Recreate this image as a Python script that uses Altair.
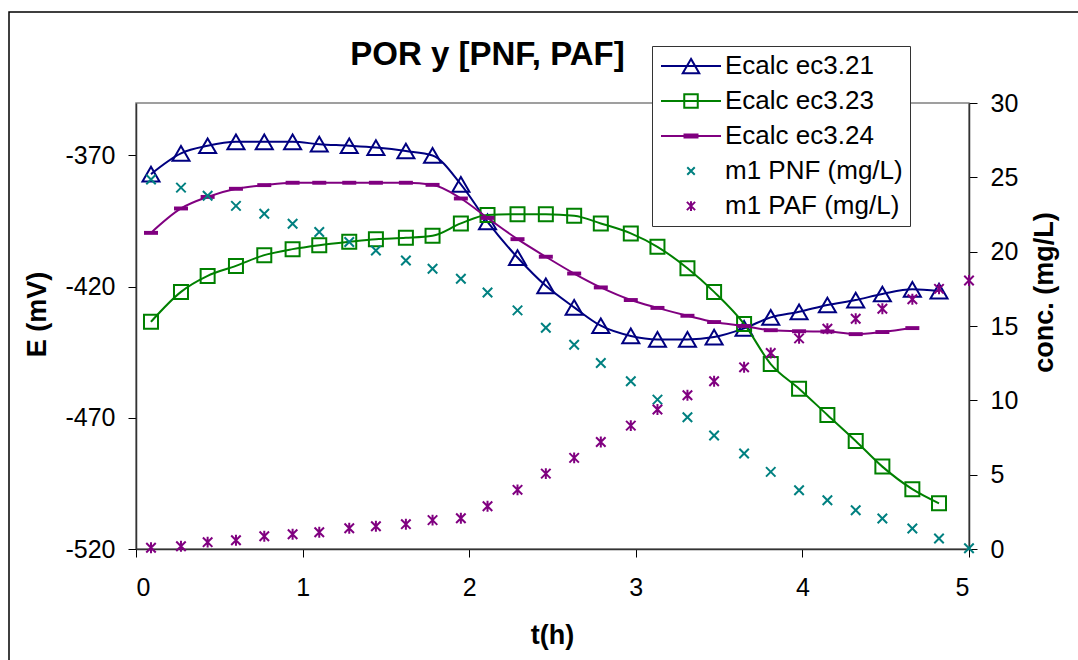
import altair as alt
import pandas as pd

# Sampling times (h)
t_h = [0.09, 0.27, 0.43, 0.60, 0.77, 0.94, 1.10, 1.28, 1.44, 1.62,
       1.78, 1.95, 2.11, 2.29, 2.46, 2.63, 2.79, 2.97, 3.13, 3.31,
       3.47, 3.65, 3.81, 3.98, 4.15, 4.32, 4.48, 4.66, 4.82, 5.00]

# Calculated potentials (mV)
e_ec321 = [-377.1, -369.2, -366.3, -364.8, -364.8, -364.8, -365.7, -366.3, -367.0, -368.3,
           -370.0, -381.0, -395.3, -408.9, -419.7, -427.9, -434.9, -438.8, -440.1, -440.1,
           -439.2, -435.9, -431.7, -429.6, -427.0, -425.1, -422.8, -421.0, -421.7]
e_ec323 = [-433.4, -422.0, -415.9, -412.1, -408.0, -405.7, -404.2, -402.9, -401.9, -401.4,
           -400.6, -395.9, -392.7, -392.4, -392.4, -393.0, -395.9, -399.7, -404.8, -413.0,
           -422.0, -434.2, -449.5, -458.9, -468.9, -478.8, -488.6, -497.2, -502.6]
e_ec324 = [-399.5, -390.2, -385.8, -382.7, -381.3, -380.4, -380.4, -380.4, -380.4, -380.4,
           -381.2, -386.4, -393.8, -401.9, -408.6, -415.0, -420.3, -425.1, -428.1, -431.1,
           -433.5, -435.0, -436.6, -437.0, -437.1, -438.1, -437.3, -435.8]

# Measured concentrations (mg/L)
pnf = [24.85, 24.31, 23.76, 23.08, 22.55, 21.88, 21.32, 20.65, 20.08, 19.41,
       18.85, 18.18, 17.25, 16.05, 14.88, 13.74, 12.51, 11.28, 10.05, 8.86,
       7.63, 6.42, 5.19, 3.95, 3.28, 2.61, 2.05, 1.38, 0.71, 0.05]
paf = [0.08, 0.19, 0.46, 0.59, 0.86, 0.99, 1.13, 1.40, 1.53, 1.67,
       1.94, 2.07, 2.88, 3.98, 5.07, 6.13, 7.20, 8.30, 9.38, 10.34,
       11.28, 12.22, 13.18, 14.17, 14.81, 15.49, 16.16, 16.80, 17.50, 18.06]

SERIES = ["Ecalc ec3.21", "Ecalc ec3.23", "Ecalc ec3.24", "m1 PNF (mg/L)", "m1 PAF (mg/L)"]
COLORS = ["#000080", "#008000", "#800080", "#008080", "#800080"]

e_ticks = [-520, -470, -420, -370]
c_ticks = [0, 5, 10, 15, 20, 25, 30]
t_ticks = [0, 1, 2, 3, 4, 5]

FONT = "Liberation Sans"

# Marker outlines
TRIANGLE = "M0,-0.95L1.1,0.95H-1.1Z"
DASH = "M-1,-0.28H1V0.28H-1Z"
XMARK = "M-1,-1L1,1M1,-1L-1,1"
STAR = "M-1,-1L1,1M1,-1L-1,1M0,-1.15V1.15"

# Legend glyphs: line segment with the series marker
LEGEND_SHAPES = [
    "M-4,0H4M0,-0.95L1.1,0.95H-1.1Z",
    "M-4,0H4M-0.9,-0.9H0.9V0.9H-0.9Z",
    "M-4,0H4M-1,-0.2H1M-1,0.2H1",
    "M-0.5,-0.5L0.5,0.5M0.5,-0.5L-0.5,0.5",
    "M-0.55,-0.55L0.55,0.55M0.55,-0.55L-0.55,0.55M0,-0.65V0.65",
]


def series_frame(name, values):
    return pd.DataFrame({"t": t_h[:len(values)], "value": values, "series": name})


e_df = pd.concat([series_frame(SERIES[0], e_ec321),
                  series_frame(SERIES[1], e_ec323),
                  series_frame(SERIES[2], e_ec324)], ignore_index=True)
c_df = pd.concat([series_frame(SERIES[3], pnf),
                  series_frame(SERIES[4], paf)], ignore_index=True)

# Plain hyphen for negative tick labels
HYPHEN_LABELS = "replace(datum.label, '\u2212', '-')"

axis_common = dict(
    labelFont=FONT, labelFontSize=25, labelColor="black",
    titleFont=FONT, titleFontSize=27, titleFontWeight="bold", titleColor="black",
    tickColor="black", tickSize=8, domainColor="#333333", domainWidth=1.5,
    grid=False, labelExpr=HYPHEN_LABELS,
)

x_enc = alt.X(
    "t:Q",
    scale=alt.Scale(domain=[0, 5], nice=False),
    axis=alt.Axis(title="t(h)", values=t_ticks, labelPadding=18,
                  titleX=416, titleY=94, titleBaseline="alphabetic", **axis_common),
)
y_e = alt.Y(
    "value:Q",
    scale=alt.Scale(domain=[-520, -350], nice=False, zero=False),
    axis=alt.Axis(title="E (mV)", orient="left", values=e_ticks, labelPadding=13,
                  titleAngle=270, titleX=-99, titleY=211, titleBaseline="middle",
                  **axis_common),
)
y_c = alt.Y(
    "value:Q",
    scale=alt.Scale(domain=[0, 30], nice=False),
    axis=alt.Axis(title="conc. (mg/L)", orient="right", values=c_ticks, labelPadding=13,
                  titleAngle=270, titleX=75, titleY=189, titleBaseline="middle",
                  **axis_common),
)


def series_color(name):
    return alt.value(COLORS[SERIES.index(name)])


def e_series(name):
    return alt.Chart(e_df).transform_filter(alt.datum.series == name).encode(
        x=x_enc, y=y_e, color=series_color(name))


def c_series(name):
    return alt.Chart(c_df).transform_filter(alt.datum.series == name).encode(
        x=x_enc, y=y_c, color=series_color(name))


line_kw = dict(strokeWidth=2, interpolate="monotone")

e_layers = []
for name, shape, size, filled in [
    (SERIES[0], TRIANGLE, 240, False),
    (SERIES[1], "square", 196, False),
    (SERIES[2], DASH, 196, True),
]:
    base = e_series(name)
    e_layers.append(base.mark_line(**line_kw))
    if filled:
        e_layers.append(base.mark_point(shape=shape, size=size, filled=True, opacity=1))
    else:
        e_layers.append(base.mark_point(shape=shape, size=size, filled=False,
                                        strokeWidth=2, opacity=1))
e_group = alt.layer(*e_layers)

c_pnf = c_series(SERIES[3]).mark_point(shape=XMARK, size=90, filled=False,
                                       strokeWidth=2, opacity=1)
c_paf = c_series(SERIES[4]).mark_point(shape=STAR, size=90, filled=False,
                                       strokeWidth=2, opacity=1)
c_group = alt.layer(c_pnf, c_paf)

legend_def = alt.Legend(
    title=None, orient="none", legendX=516, legendY=-57, direction="vertical",
    fillColor="white", strokeColor="#333333", padding=7,
    symbolSize=225, symbolStrokeWidth=2, symbolOffset=19, symbolOpacity=1,
    labelOffset=21, labelFont=FONT, labelFontSize=26, labelColor="black",
    labelLimit=400, rowPadding=9,
)
legend_layer = alt.Chart(pd.DataFrame({"series": SERIES})).mark_point(
    filled=False, opacity=0
).encode(
    color=alt.Color("series:N", scale=alt.Scale(domain=SERIES, range=COLORS),
                    legend=legend_def),
    shape=alt.Shape("series:N", scale=alt.Scale(domain=SERIES, range=LEGEND_SHAPES),
                    legend=legend_def),
)

# Outer chart border
border = alt.Chart(alt.Data(values=[{}])).mark_rect(
    fill="transparent", stroke="black", strokeWidth=1.5
).encode(
    x=alt.value(-127), y=alt.value(-91), x2=alt.value(960), y2=alt.value(570)
)

chart = alt.layer(border, e_group, c_group, legend_layer).resolve_scale(
    y="independent"
).properties(
    width=833, height=446,
    autosize=alt.AutoSizeParams(type="none"),
    padding={"left": 136, "top": 103, "right": 109, "bottom": 111},
    title=alt.Title("POR y [PNF, PAF]", font=FONT, fontSize=33, fontWeight="bold",
                    color="black", anchor="middle", frame="group", baseline="alphabetic",
                    offset=0, dx=-65, dy=87),
).configure(
    background="white"
).configure_view(
    stroke="#808080", strokeWidth=1.5
)

chart.save("out.html", embed_options={"renderer": "svg", "actions": False})
